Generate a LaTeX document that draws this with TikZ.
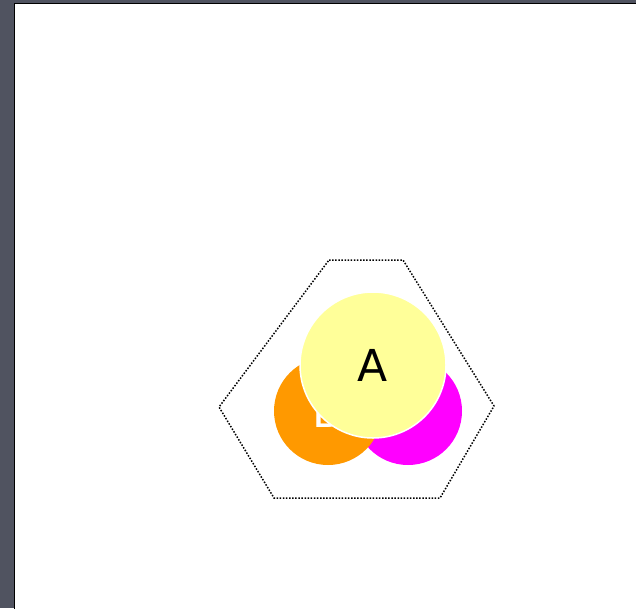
\documentclass[tikz,border=0pt]{standalone}
\usepackage{xcolor}
\usepackage{fontspec}
\setmainfont{DejaVu Sans}
\usepackage{tikz}

\definecolor{frameBg}{RGB}{80,83,96}
\definecolor{setA}{RGB}{255,255,153}
\definecolor{setB}{RGB}{255,153,0}
\definecolor{setC}{RGB}{255,0,255}

\begin{document}
\begin{tikzpicture}[
  x=1pt, y=-1pt,
  setcircle/.style={circle, draw=none, inner sep=0pt, text=white, font=\fontsize{44}{44}\selectfont},
  small/.style={setcircle, minimum size=108pt},
  big/.style={setcircle, minimum size=146pt, draw=white, line width=1.5pt, text=black},
  hull/.style={draw=black, line width=1.5pt, dash pattern=on 1.5pt off 1.6pt}
]

% Window
\useasboundingbox (0,0) rectangle (636,608);
\fill [frameBg] (0,0) rectangle (636,608);
\draw [fill=white, line width=1.5pt] (14.5,3.5) rectangle (660,630);

% Hull
\draw [hull] (329,260) -- (403,260) -- (494,406) -- (440,498) -- (274,498) -- (219,407) -- cycle;

% Sets
\node (c) [small, fill=setC] at (408,411) {\kern-10pt C};
\node (b) [small, fill=setB] at (328,411) {\raisebox{-2pt}{B}};
\node (a) [big, fill=setA] at (373,365) {A};
\end{tikzpicture}
\end{document}
